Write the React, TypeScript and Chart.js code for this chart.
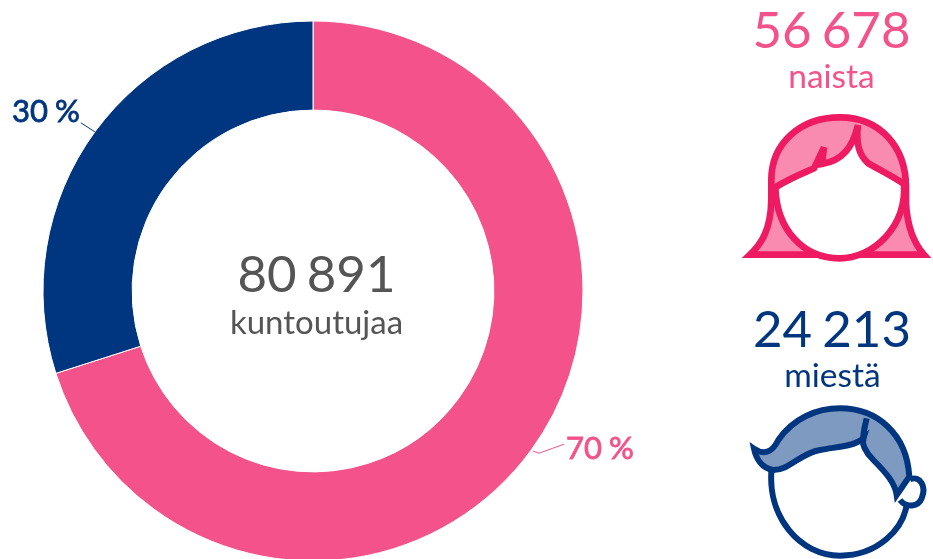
import React, { useEffect, useRef } from "react";
import { Chart, registerables } from "chart.js";

Chart.register(...registerables);

const categories = ["naista", "miestä"];
const seriesValues = [56678, 24213];
const countLabels = ["56 678", "24 213"];
const shareLabels = ["70 %", "30 %"];
const totalLabel = "80 891";
const totalCaption = "kuntoutujaa";

const PINK = "#f4528a";
const BLUE = "#00357f";
const GREY = "#555555";
const FONT = "Lato, sans-serif";

const labelPlugin = {
  id: "labels",
  afterDraw(chart: any) {
    const ctx = chart.ctx;
    const arcs = chart.getDatasetMeta(0).data;
    ctx.save();
    ctx.textBaseline = "alphabetic";

    const text = (s: string, x: number, y: number, font: string, color: string, align = "center", word = "0px", embolden = 0) => {
      ctx.font = font;
      ctx.fillStyle = color;
      ctx.textAlign = align;
      ctx.wordSpacing = word;
      ctx.fillText(s, x, y);
      if (embolden > 0) {
        ctx.lineWidth = embolden;
        ctx.strokeStyle = color;
        ctx.strokeText(s, x, y);
      }
    };

    // centre
    text(totalLabel, 316.5, 292, `51px ${FONT}`, GREY, "center", "-3px");
    text(totalCaption, 316.5, 334, `33px ${FONT}`, GREY);

    // side counts
    text(countLabels[0], 831.5, 48, `51px ${FONT}`, PINK, "center", "-3px");
    text(categories[0], 831.5, 88, `33.5px ${FONT}`, PINK);
    text(countLabels[1], 832, 347, `51px ${FONT}`, BLUE, "center", "-3px");
    text(categories[1], 832.5, 387, `33.5px ${FONT}`, BLUE);

    // leader lines and shares, from each arc's mid angle
    const leaders = [
      { dx: [2, 8, 33], dy: [1, 3, -6], color: PINK, tx: 566, ty: 459, i: 0 },
      { dx: [0, -14], dy: [0, -9], color: BLUE, tx: 12, ty: 122, i: 1 },
    ];
    leaders.forEach((l) => {
      const arc = arcs[l.i];
      const mid = (arc.startAngle + arc.endAngle) / 2;
      const px = arc.x + Math.cos(mid) * arc.outerRadius;
      const py = arc.y + Math.sin(mid) * arc.outerRadius;
      ctx.beginPath();
      l.dx.forEach((d, k) => {
        if (k === 0) ctx.moveTo(px + d, py + l.dy[k]);
        else ctx.lineTo(px + d, py + l.dy[k]);
      });
      ctx.strokeStyle = l.color;
      ctx.lineWidth = 1;
      ctx.stroke();
      text(shareLabels[l.i], l.tx, l.ty, `31px ${FONT}`, l.color, "left", "-1px", 0.8);
    });
    ctx.restore();
  },
};

function WomanIcon() {
  const c = "#ee1a62";
  const hair = "#f98bb0";
  return (
    <svg
      style={{ position: "absolute", left: 730, top: 0 }}
      width={203}
      height={280}
      viewBox="0 0 609 840"
    >
      <g stroke={c} strokeWidth={20} strokeLinejoin="miter" strokeMiterlimit={6} fill={hair}>
        <path d="M60 764 C95 730 122 690 124 600 L124 540 C124 430 210 352 330 352 C450 352 527 440 528 560 L528 610 C532 680 552 730 582 764 Z" />
        <path
          fill="#ffffff"
          d="M136 562 C185 532 230 515 252 505 L282 442 L276 492 C335 482 368 445 384 375 C378 420 385 465 415 490 C450 510 490 530 522 552 C530 680 430 775 328 775 C220 775 140 690 136 562 Z"
        />
      </g>
    </svg>
  );
}

function ManIcon() {
  const c = "#00357f";
  const hair = "#7f9ac0";
  return (
    <svg
      style={{ position: "absolute", left: 730, top: 290 }}
      width={203}
      height={269}
      viewBox="0 0 609 807"
    >
      <g stroke={c} strokeWidth={18} strokeLinejoin="miter" strokeMiterlimit={6} fill="#ffffff">
        <path d="M125 535 C110 680 210 797 330 797 C440 797 525 720 532 630" />
        <path d="M540 568 C570 555 590 590 575 625 C565 650 530 655 510 630" />
        <path
          fill={hair}
          d="M72 476 C100 495 125 490 145 450 C190 385 260 355 330 355 C440 355 530 430 538 560 L500 615 C495 580 470 550 430 510 C405 485 395 460 400 445 C370 470 320 470 270 480 C210 490 180 540 130 540 C95 535 78 505 72 476 Z"
        />
        <path fill="none" d="M410 385 C403 415 397 435 400 455" />
      </g>
    </svg>
  );
}

export default function App() {
  const ref = useRef<HTMLCanvasElement>(null);

  useEffect(() => {
    const chart = new Chart(ref.current!, {
      type: "doughnut",
      data: {
        labels: categories,
        datasets: [
          {
            data: seriesValues,
            backgroundColor: [PINK, BLUE],
            borderColor: "#ffffff",
            borderWidth: 1,
          },
        ],
      },
      options: {
        responsive: false,
        animation: false,
        radius: 270,
        cutout: "67%",
        layout: { padding: { left: 0, right: 307, top: 0, bottom: 0 } },
        plugins: { legend: { display: false }, tooltip: { enabled: false } },
      },
      plugins: [labelPlugin],
    } as any);
    return () => chart.destroy();
  }, []);

  return (
    <div
      style={{
        position: "fixed",
        left: 0,
        top: 0,
        width: 933,
        height: 559,
        overflow: "hidden",
        background: "#ffffff",
      }}
    >
      <canvas ref={ref} width={933} height={582} style={{ display: "block" }} />
      <WomanIcon />
      <ManIcon />
    </div>
  );
}
